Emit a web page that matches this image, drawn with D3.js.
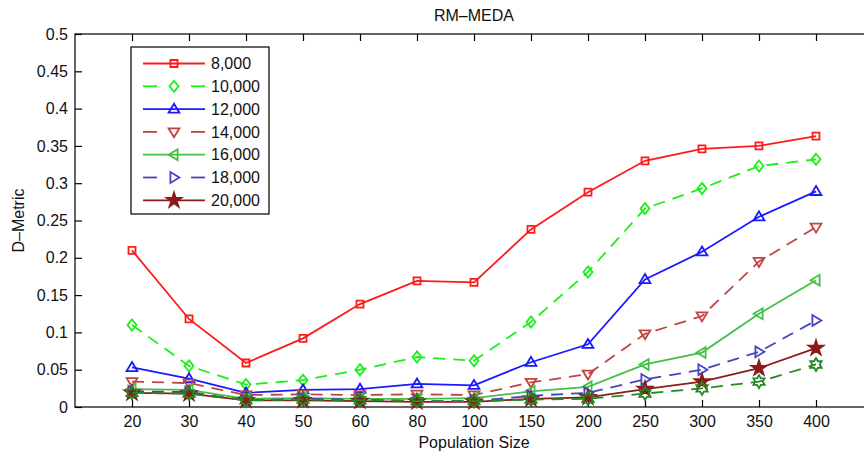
<!DOCTYPE html>
<html><head><meta charset="utf-8">
<script src="https://cdn.jsdelivr.net/npm/d3@7"></script>
<style>body{margin:0;background:#fff}svg{display:block}text{font-family:"Liberation Sans",Arial,sans-serif}</style>
</head><body>
<script>
const categories = ["20","30","40","50","60","80","100","150","200","250","300","350","400"];
const yTicks = [0,0.05,0.1,0.15,0.2,0.25,0.3,0.35,0.4,0.45,0.5];
const seriesNames = ["8,000","10,000","12,000","14,000","16,000","18,000","20,000"];
const s8000  = [0.210,0.118,0.059,0.092,0.138,0.169,0.167,0.238,0.288,0.330,0.346,0.350,0.363];
const s10000 = [0.110,0.055,0.030,0.036,0.050,0.067,0.062,0.114,0.181,0.266,0.293,0.323,0.332];
const s12000 = [0.053,0.038,0.019,0.023,0.024,0.031,0.029,0.060,0.084,0.171,0.208,0.255,0.289];
const s14000 = [0.034,0.032,0.016,0.017,0.016,0.017,0.016,0.033,0.044,0.098,0.122,0.195,0.241];
const s16000 = [0.024,0.023,0.011,0.012,0.011,0.011,0.012,0.021,0.027,0.057,0.073,0.125,0.170];
const s18000 = [0.021,0.020,0.009,0.011,0.010,0.008,0.008,0.015,0.019,0.037,0.050,0.074,0.116];
const s20000 = [0.019,0.018,0.009,0.009,0.008,0.007,0.007,0.011,0.013,0.024,0.034,0.052,0.079];
const sExtra = [0.019,0.018,0.009,0.010,0.009,0.008,0.008,0.010,0.011,0.018,0.025,0.034,0.057];

const W=864,H=456, L=75, R=873, T=34, B=407;
const svg=d3.select("body").append("svg").attr("width",W).attr("height",H);
const x=d3.scalePoint().domain(categories).range([L,R]).padding(1);
const y=d3.scaleLinear().domain([0,0.5]).range([B,T]);

// markers
function mk(type,s){
  const p=d3.path();
  if(type==="square"){p.rect(-s/2,-s/2,s,s);}
  else if(type==="diamond"){p.moveTo(0,-s*0.62);p.lineTo(s*0.5,0);p.lineTo(0,s*0.62);p.lineTo(-s*0.5,0);p.closePath();}
  else if(type==="up"){p.moveTo(0,-s*0.6);p.lineTo(s*0.6,s*0.4);p.lineTo(-s*0.6,s*0.4);p.closePath();}
  else if(type==="down"){p.moveTo(0,s*0.6);p.lineTo(s*0.6,-s*0.4);p.lineTo(-s*0.6,-s*0.4);p.closePath();}
  else if(type==="left"){p.moveTo(-s*0.6,0);p.lineTo(s*0.4,-s*0.6);p.lineTo(s*0.4,s*0.6);p.closePath();}
  else if(type==="right"){p.moveTo(s*0.6,0);p.lineTo(-s*0.4,-s*0.6);p.lineTo(-s*0.4,s*0.6);p.closePath();}
  else if(type==="star5"){const Ro=s*0.7,Ri=Ro*0.382;for(let i=0;i<10;i++){const a=-Math.PI/2+i*Math.PI/5,r=i%2?Ri:Ro;i?p.lineTo(r*Math.cos(a),r*Math.sin(a)):p.moveTo(r*Math.cos(a),r*Math.sin(a));}p.closePath();}
  else if(type==="star6"){const Ro=s*0.65,Ri=Ro/Math.sqrt(3);for(let i=0;i<12;i++){const a=-Math.PI/2+i*Math.PI/6,r=i%2?Ri:Ro;i?p.lineTo(r*Math.cos(a),r*Math.sin(a)):p.moveTo(r*Math.cos(a),r*Math.sin(a));}p.closePath();}
  return p.toString();
}

const series=[
 {name:seriesNames[0],vals:s8000, color:"#ff1a1a",dash:null, m:"square",size:7,fill:"none"},
 {name:seriesNames[1],vals:s10000,color:"#19f019",dash:"12,8",m:"diamond",size:9,fill:"none"},
 {name:seriesNames[2],vals:s12000,color:"#1a1aff",dash:null, m:"up",size:9,fill:"none"},
 {name:seriesNames[3],vals:s14000,color:"#c04444",dash:"12,8",m:"down",size:9,fill:"none"},
 {name:seriesNames[4],vals:s16000,color:"#44c044",dash:null, m:"left",size:9,fill:"none"},
 {name:seriesNames[5],vals:s18000,color:"#4444c0",dash:"12,8",m:"right",size:9,fill:"none"},
 {name:seriesNames[6],vals:s20000,color:"#8c1c1c",dash:null, m:"star5",size:11,fill:"#8c1c1c"},
 {name:null,vals:sExtra,color:"#238a23",dash:"12,8",m:"star6",size:10,fill:"none"}
];

// frame
svg.append("rect").attr("x",L).attr("y",T).attr("width",R-L).attr("height",B-T).attr("fill","none").attr("stroke","#000").attr("stroke-width",1.2);

// axes
const fmt=d=>String(+d.toFixed(2));
const xa=svg.append("g").attr("transform",`translate(0,${B})`).call(d3.axisBottom(x).tickSizeInner(-7).tickSizeOuter(0).tickPadding(9));
const ya=svg.append("g").attr("transform",`translate(${L},0)`).call(d3.axisLeft(y).tickValues(yTicks).tickFormat(fmt).tickSizeInner(-7).tickSizeOuter(0).tickPadding(7));
const xt=svg.append("g").attr("transform",`translate(0,${T})`).call(d3.axisTop(x).tickSizeInner(-7).tickSizeOuter(0).tickFormat(""));
[xa,ya,xt].forEach(g=>{g.select(".domain").remove();g.selectAll("line").attr("stroke","#000").attr("stroke-width",1.2);g.selectAll("text").attr("font-size",16).attr("fill","#111").attr("font-family","Liberation Sans, Arial, sans-serif");});

// title, labels
svg.append("text").attr("x",(L+R)/2).attr("y",21).attr("text-anchor","middle").attr("font-size",16).attr("fill","#111").text("RM–MEDA");
svg.append("text").attr("x",(L+R)/2).attr("y",448).attr("text-anchor","middle").attr("font-size",16).attr("fill","#111").text("Population Size");
svg.append("text").attr("transform",`translate(24,${(T+B)/2}) rotate(-90)`).attr("text-anchor","middle").attr("font-size",16).attr("fill","#111").text("D–Metric");

// lines
const line=d3.line().x((d,i)=>x(categories[i])).y(d=>y(d));
series.forEach(s=>{
  const g=svg.append("g");
  g.append("path").datum(s.vals).attr("d",line).attr("fill","none").attr("stroke",s.color).attr("stroke-width",1.8).attr("stroke-dasharray",s.dash);
  g.selectAll("path.mk").data(s.vals).join("path").attr("class","mk")
   .attr("transform",(d,i)=>`translate(${x(categories[i])},${y(d)})`)
   .attr("d",mk(s.m,s.size)).attr("fill",s.fill).attr("stroke",s.color).attr("stroke-width",1.8);
});

// legend
const lg=svg.append("g");
lg.append("rect").attr("x",131).attr("y",47).attr("width",138).attr("height",167).attr("fill","#fff").attr("stroke","#000").attr("stroke-width",1.2);
series.filter(s=>s.name).forEach((s,i)=>{
  const yy=63.5+i*22.8;
  if(s.dash){
    lg.append("line").attr("x1",143).attr("x2",157).attr("y1",yy).attr("y2",yy).attr("stroke",s.color).attr("stroke-width",1.8);
    lg.append("line").attr("x1",191).attr("x2",205).attr("y1",yy).attr("y2",yy).attr("stroke",s.color).attr("stroke-width",1.8);
  } else {
    lg.append("line").attr("x1",143).attr("x2",205).attr("y1",yy).attr("y2",yy).attr("stroke",s.color).attr("stroke-width",1.8);
  }
  lg.append("path").attr("transform",`translate(174,${yy})`).attr("d",mk(s.m,s.size)).attr("fill",s.fill).attr("stroke",s.color).attr("stroke-width",1.8);
  lg.append("text").attr("x",211).attr("y",yy).attr("dy","0.36em").attr("font-size",16).attr("fill","#111").text(s.name);
});
</script>
</body></html>
